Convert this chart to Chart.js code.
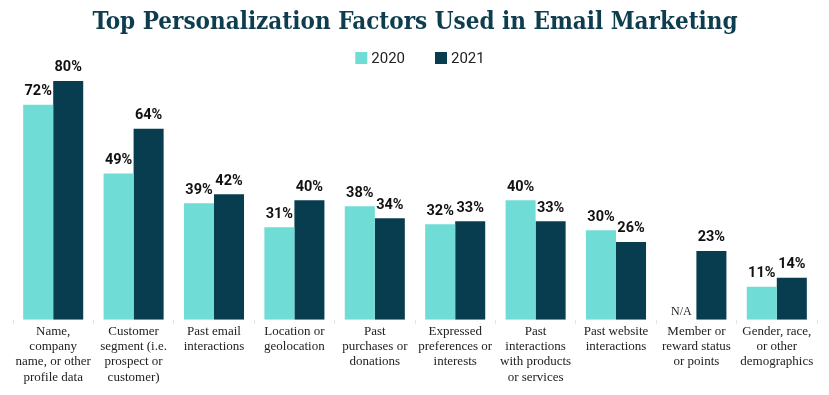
<!DOCTYPE html>
<html>
<head>
<meta charset="utf-8">
<script src="https://cdn.jsdelivr.net/npm/chart.js@4.4.1/dist/chart.umd.min.js"></script>
<style>
  html, body { margin: 0; padding: 0; background: #fff; }
  #wrap { width: 829px; height: 395px; position: relative; }
</style>
</head>
<body>
<div id="wrap"><canvas id="chart"></canvas></div>
<script>
const categories = [
  ["Name,", "company", "name, or other", "profile data"],
  ["Customer", "segment (i.e.", "prospect or", "customer)"],
  ["Past email", "interactions"],
  ["Location or", "geolocation"],
  ["Past", "purchases or", "donations"],
  ["Expressed", "preferences or", "interests"],
  ["Past", "interactions", "with products", "or services"],
  ["Past website", "interactions"],
  ["Member or", "reward status", "or points"],
  ["Gender, race,", "or other", "demographics"]
];
const values2020 = [72, 49, 39, 31, 38, 32, 40, 30, null, 11];
const values2021 = [80, 64, 42, 40, 34, 33, 33, 26, 23, 14];

// etiquettes au-dessus des barres (et N/A quand pas de valeur)
const labelsPlugin = {
  id: 'barLabels',
  afterDatasetsDraw(chart) {
    const ctx = chart.ctx;
    const yBase = chart.scales.y.getPixelForValue(0);
    ctx.save();
    ctx.textAlign = 'center';
    ctx.textBaseline = 'bottom';
    chart.data.datasets.forEach((ds, i) => {
      chart.getDatasetMeta(i).data.forEach((bar, j) => {
        const v = ds.data[j];
        if (v == null) {
          ctx.font = '12px "Liberation Serif"';
          ctx.fillStyle = '#222';
          ctx.fillText('N/A', bar.x, yBase - 2);
        } else {
          ctx.font = 'bold 14.5px Roboto';
          ctx.fillStyle = '#111';
          ctx.fillText(v + '%', bar.x, bar.y - 6);
        }
      });
    });
    ctx.restore();
  }
};

// légende dessinée à la main, centrée sous le titre
const legendPlugin = {
  id: 'miniLegend',
  afterDraw(chart) {
    const ctx = chart.ctx;
    const y = 58, box = 12, gapTxt = 4, gapItem = 30;
    ctx.save();
    ctx.font = '15px Roboto';
    ctx.textBaseline = 'middle';
    ctx.textAlign = 'left';
    const items = chart.data.datasets.map(ds => ({ label: ds.label, color: ds.backgroundColor, w: ctx.measureText(ds.label).width }));
    let total = 0;
    items.forEach((it, i) => { total += box + gapTxt + it.w + (i ? gapItem : 0); });
    let x = 420 - total / 2;
    items.forEach(it => {
      ctx.fillStyle = it.color;
      ctx.fillRect(x, y - box / 2, box, box);
      ctx.fillStyle = '#222';
      ctx.fillText(it.label, x + box + gapTxt, y + 1);
      x += box + gapTxt + it.w + gapItem;
    });
    ctx.restore();
  }
};

new Chart(document.getElementById('chart'), {
  type: 'bar',
  data: {
    labels: categories,
    datasets: [
      { label: '2020', data: values2020, backgroundColor: '#6fdcd5' },
      { label: '2021', data: values2021, backgroundColor: '#073d4f' }
    ]
  },
  options: {
    responsive: true,
    maintainAspectRatio: false,
    animation: false,
    layout: { padding: { left: 13, right: 12, top: 4, bottom: 10 } },
    datasets: { bar: { categoryPercentage: 0.747, barPercentage: 1 } },
    plugins: {
      title: {
        display: true,
        text: 'Top Personalization Factors Used in Email Marketing',
        color: '#0d3d4f',
        font: { family: '"DejaVu Serif Condensed", "DejaVu Serif"', size: 24, weight: 'bold' },
        padding: { top: 4, bottom: 34 }
      },
      legend: { display: false },
      tooltip: { enabled: false }
    },
    scales: {
      x: {
        grid: { offset: true, drawOnChartArea: false, drawTicks: true, tickLength: 4, color: '#e2e2e2' },
        border: { display: false },
        ticks: {
          color: '#222', maxRotation: 0, autoSkip: false, padding: 0,
          font: { family: '"Liberation Serif"', size: 13, lineHeight: 1.18 }
        }
      },
      y: {
        display: false,
        min: 0, max: 83.4
      }
    }
  },
  plugins: [labelsPlugin, legendPlugin]
});
</script>
</body>
</html>
